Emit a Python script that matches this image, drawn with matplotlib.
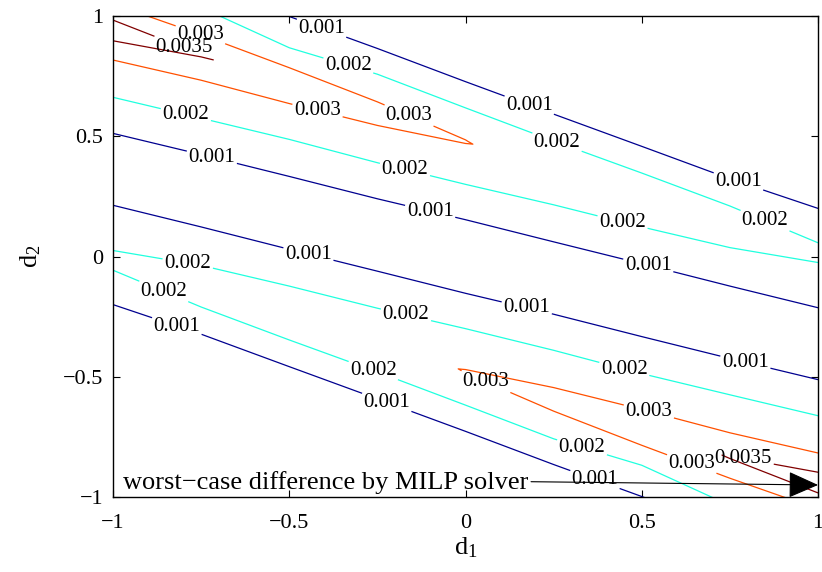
import numpy as np
import matplotlib.pyplot as plt

plt.rcParams['font.family'] = 'Liberation Serif'
plt.rcParams['mathtext.fontset'] = 'custom'
plt.rcParams['mathtext.rm'] = 'Liberation Serif'
plt.rcParams['mathtext.default'] = 'regular'

# columns of d1 where the difference profile is sampled
d1_cols = [-1, -0.75, -0.5, -0.25, 0, 0.25, 0.5, 0.75, 1]

# upper ridge: d2 of each crossing along the columns
n1_hi = [1.27, 1.136, 0.998, 0.865, 0.727, 0.592, 0.458, 0.323, 0.2]
c1_hi = [1.2, 1.035, 0.868, 0.758, 0.618, 0.48, 0.347, 0.21, 0.057]
o1_hi = [1.05, 0.922, 0.785, 0.643, 0.485, 0.41, 0.29, 0.172, 0.037]
dr1_hi = [0.983, 0.840, 0.73, 0.613, 0.481, 0.376, 0.26, 0.148, 0.026]
pk1 = [0.94, 0.835, 0.71, 0.594, 0.478, 0.348, 0.235, 0.124, 0.016]
dr1_lo = [0.897, 0.830, 0.69, 0.575, 0.474, 0.32, 0.21, 0.1, 0.006]
o1_lo = [0.817, 0.733, 0.636, 0.545, 0.47, 0.29, 0.18, 0.075, -0.005]
c1_lo = [0.662, 0.575, 0.487, 0.39, 0.30, 0.215, 0.123, 0.037, -0.025]
n1_lo = [0.512, 0.424, 0.333, 0.24, 0.153, 0.061, -0.03, -0.123, -0.213]

# valley between the two ridges
valley = [0.36, 0.27, 0.18, 0.09, 0.0, -0.09, -0.18, -0.27, -0.36]

# lower ridge
n2_hi = [0.213, 0.123, 0.03, -0.061, -0.153, -0.24, -0.333, -0.424, -0.512]
c2_hi = [0.025, -0.037, -0.123, -0.215, -0.30, -0.39, -0.487, -0.575, -0.662]
o2_hi = [0.005, -0.075, -0.18, -0.29, -0.47, -0.545, -0.636, -0.733, -0.817]
dr2_hi = [-0.006, -0.1, -0.21, -0.32, -0.474, -0.575, -0.69, -0.830, -0.897]
pk2 = [-0.016, -0.124, -0.235, -0.348, -0.478, -0.594, -0.71, -0.835, -0.94]
dr2_lo = [-0.026, -0.148, -0.26, -0.376, -0.481, -0.613, -0.73, -0.840, -0.983]
o2_lo = [-0.037, -0.172, -0.29, -0.41, -0.485, -0.643, -0.785, -0.922, -1.05]
c2_lo = [-0.057, -0.21, -0.347, -0.48, -0.618, -0.758, -0.868, -1.035, -1.2]
n2_lo = [-0.2, -0.323, -0.458, -0.592, -0.727, -0.865, -0.998, -1.136, -1.27]

# difference values (x1e-3) on the ridge crests
pk1_val = [3.65, 3.52, 3.38, 3.2, 3.02, 2.78, 2.6, 2.42, 2.08]
dr1_val = [3.5, 3.5, 3.3, 3.15, 3.01, 2.7, 2.55, 2.38, 2.07]
o1_val = [3, 3, 3, 3, 3, 2.5, 2.38, 2.25, 2.04]
pk2_val = [2.08, 2.42, 2.6, 2.78, 3.02, 3.2, 3.38, 3.52, 3.65]
dr2_val = [2.07, 2.38, 2.55, 2.7, 3.01, 3.15, 3.3, 3.5, 3.5]
o2_val = [2.04, 2.25, 2.38, 2.5, 3, 3, 3, 3, 3]
valley_val = 0.5
edge_val = 0.2

levels = [0.001, 0.002, 0.003, 0.0035]
line_colors = ['#00008F', '#20FFDF', '#FF5000', '#800000']

ticks = [-1, -0.5, 0, 0.5, 1]
tick_text = ['\u22121', '\u22120.5', '0', '0.5', '1']

# where the contour values are written
label_pos = [(-0.41, 0.935), (0.18, 0.623), (0.774, 0.311),
             (-0.72, 0.408), (-0.10, 0.193), (0.518, -0.042),
             (-0.446, 0.006), (0.173, -0.222), (0.793, -0.451),
             (-0.82, -0.299), (-0.224, -0.611), (0.367, -0.929),
             (-0.333, 0.789), (0.259, 0.471), (0.85, 0.152),
             (-0.794, 0.581), (-0.172, 0.36), (0.445, 0.138),
             (-0.788, -0.028), (-0.169, -0.243), (0.45, -0.472),
             (-0.857, -0.153), (-0.263, -0.486), (0.33, -0.798),
             (-0.753, 0.914), (-0.42, 0.606), (-0.16, 0.588),
             (0.057, -0.527), (0.52, -0.645), (0.642, -0.86),
             (-0.796, 0.886), (0.788, -0.839)]

# build a curvilinear grid: one row per crossing line
ncol = len(d1_cols)
edge_lo = [-1.5] * ncol
edge_hi = [1.5] * ncol
rows = [edge_lo, n2_lo, c2_lo, o2_lo, dr2_lo, pk2, dr2_hi, o2_hi, c2_hi, n2_hi,
        valley,
        n1_lo, c1_lo, o1_lo, dr1_lo, pk1, dr1_hi, o1_hi, c1_hi, n1_hi, edge_hi]
vals = [edge_val, 1, 2, o2_val, dr2_val, pk2_val, dr2_val, o2_val, 2, 1,
        valley_val,
        1, 2, o1_val, dr1_val, pk1_val, dr1_val, o1_val, 2, 1, edge_val]

Y = np.array(rows, dtype=float)
X = np.tile(np.array(d1_cols, dtype=float), (len(rows), 1))
Z = np.array([np.broadcast_to(v, ncol) for v in vals], dtype=float) * 1e-3

fig = plt.figure(figsize=(8.22, 5.72), dpi=100)
ax = fig.add_axes([0.1375, 0.1311, 0.8577, 0.8409])

cs = ax.contour(X, Y, Z, levels=levels, colors=line_colors, linewidths=0.9)
lbls = ax.clabel(cs, fmt='%g', fontsize=15, colors='k', inline=True,
                 inline_spacing=2, manual=label_pos)
for t in lbls:
    t.set_rotation(0)

ax.annotate('worst\u2212case difference by MILP solver', xy=(1, -0.95),
            xytext=(-0.972, -0.968), textcoords='data', fontsize=19,
            ha='left', va='baseline',
            arrowprops=dict(arrowstyle='-|>,head_length=0.95,head_width=0.42',
                            color='k', lw=0.8, shrinkA=0, shrinkB=0,
                            relpos=(1, 0.55), mutation_scale=20))

ax.set_xlim(-1, 1)
ax.set_ylim(-1, 1)
ax.set_xticks(ticks)
ax.set_xticklabels(tick_text)
ax.set_yticks(ticks)
ax.set_yticklabels(tick_text)
ax.tick_params(direction='in', top=True, right=True, length=5, width=0.8,
               labelsize=16)
ax.tick_params(axis='x', pad=12)
ax.tick_params(axis='y', pad=7)
for s in ax.spines.values():
    s.set_linewidth(1.0)

ax.set_xlabel('d$_1$', fontsize=19, labelpad=2)
ax.set_ylabel('d$_2$', fontsize=19, labelpad=14)

plt.savefig('out.png', dpi=100)
